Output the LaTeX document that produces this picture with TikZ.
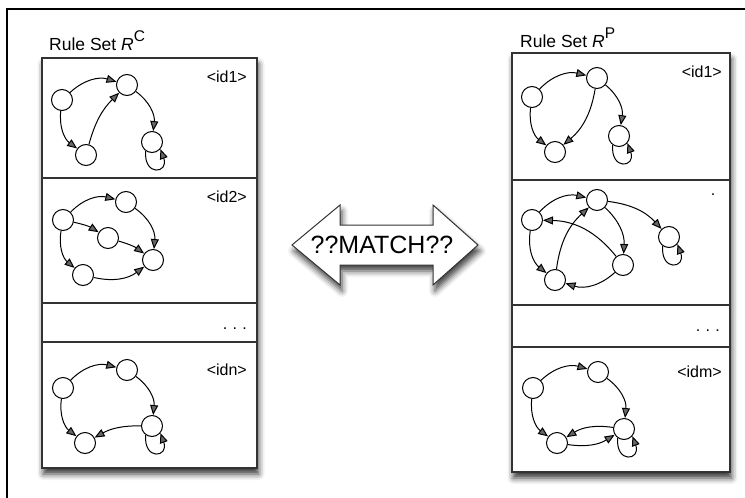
\documentclass[tikz,border=0pt]{standalone}
\usepackage{fontspec}
\setmainfont{Liberation Sans}
\usetikzlibrary{arrows.meta,shadows.blur}

\begin{document}
\begin{tikzpicture}[x=1pt,y=-1pt]

  % Styles
  \tikzstyle{gnode}=[draw,circle,line width=1pt,minimum size=21pt,inner sep=0pt]
  \tikzstyle{to}=[-{Triangle[length=10pt,width=8pt]},line width=1pt]
  \tikzstyle{panel}=[draw=black!80,line width=1.2pt,fill=white,blur shadow={shadow xshift=1.5pt,shadow yshift=-6pt,shadow blur radius=6pt,shadow opacity=80}]
  \tikzstyle{divider}=[draw=black!80,line width=1.2pt]
  \tikzstyle{bigarrow}=[draw=black!80,line width=1pt,fill=white,line join=miter,blur shadow={shadow xshift=2pt,shadow yshift=-6pt,shadow blur radius=6pt,shadow opacity=75}]
  \tikzstyle{tag}=[anchor=east,inner sep=0pt,font=\fontsize{16}{18}\selectfont]
  \tikzstyle{title}=[anchor=base west,inner sep=0pt,font=\fontsize{17.5}{20}\selectfont]

  % \gnode{<id>}
  \newcommand{\gnode}[1]{node[gnode] (#1) {}}
  % \selfloop{<id>}
  \newcommand{\selfloop}[1]{\draw[to] (#1.235) .. controls +(-95:26pt) and +(-70:26pt) .. (#1.-40);}
  % raised letter of a title
  \newcommand{\raisedletter}[1]{\raisebox{9pt}{\fontsize{15.5}{16}\selectfont #1}}

  % ===========================================================================

  \useasboundingbox (0,0) rectangle (745,498);
  \draw[line width=1.3pt] (7,498) -- (7,9) -- (745,9);

  % Draw panels
  \draw[panel] (42,58) rectangle (257,468);
  \draw[divider] (42,178) -- (257,178);
  \draw[divider] (42,303) -- (257,303);
  \draw[divider] (42,342) -- (257,342);
  \draw[panel] (512,53) rectangle (730,472);
  \draw[divider] (512,180) -- (730,180);
  \draw[divider] (512,305) -- (730,305);
  \draw[divider] (512,347) -- (730,347);

  % Titles and tags
  \node[title] (ltitle) at (49,50) {Rule Set \textit{R}\raisedletter{C}};
  \node[title] (rtitle) at (520,47) {Rule Set \textit{R}\raisedletter{P}};
  \node[tag] (l1tag) at (247,77) {<id1>};
  \node[tag] (l2tag) at (247,197) {<id2>};
  \node[tag,anchor=base east] (ldots) at (247,329) {.\,\,.\,\,.};
  \node[tag] (lntag) at (247,370) {<idn>};
  \node[tag] (r1tag) at (722,72) {<id1>};
  \node[tag,anchor=base] (r2tag) at (713,195) {.};
  \node[tag,anchor=base east] (rdots) at (720,331) {.\,\,.\,\,.};
  \node[tag] (rmtag) at (722,372) {<idm>};

  % Draw graph nodes
  \path (62,100)  \gnode{l1a};
  \path (127,85)  \gnode{l1b};
  \path (86,155)  \gnode{l1c};
  \path (152,142) \gnode{l1d};

  \path (63,220)  \gnode{l2a};
  \path (126,202) \gnode{l2b};
  \path (108,238) \gnode{l2m};
  \path (153,260) \gnode{l2e};
  \path (83,275)  \gnode{l2c};

  \path (63,388)  \gnode{lna};
  \path (127,370) \gnode{lnb};
  \path (152,426) \gnode{lnd};
  \path (85,443)  \gnode{lnc};

  \path (532,97)  \gnode{r1a};
  \path (597,78)  \gnode{r1b};
  \path (555,152) \gnode{r1c};
  \path (619,136) \gnode{r1d};

  \path (532,220) \gnode{r2a};
  \path (597,200) \gnode{r2b};
  \path (623,265) \gnode{r2e};
  \path (555,280) \gnode{r2c};
  \path (669,237) \gnode{r2d};

  \path (533,388) \gnode{rma};
  \path (598,372) \gnode{rmb};
  \path (624,429) \gnode{rmd};
  \path (557,443) \gnode{rmc};

  % Draw arrows
  \draw[to] (l1a) to[bend left=30] (l1b);
  \draw[to] (l1a) to[bend right=30] (l1c);
  \draw[to] (l1c) to[bend left=15] (l1b);
  \draw[to] (l1b) to[bend left=30] (l1d);
  \selfloop{l1d}

  \draw[to] (l2a) to[bend left=30] (l2b);
  \draw[to] (l2a) to[bend left=10] (l2m);
  \draw[to] (l2b) to[bend left=30] (l2e);
  \draw[to] (l2m) to[bend left=10] (l2e);
  \draw[to] (l2a) to[bend right=30] (l2c);
  \draw[to] (l2c) to[bend right=25] (l2e);

  \draw[to] (lna) to[bend left=30] (lnb);
  \draw[to] (lna) to[bend right=30] (lnc);
  \draw[to] (lnb) to[bend left=30] (lnd);
  \draw[to] (lnd) to[bend right=15] (lnc);
  \selfloop{lnd}

  \draw[to] (r1a) to[bend left=30] (r1b);
  \draw[to] (r1a) to[bend right=30] (r1c);
  \draw[to] (r1b) to[bend left=20] (r1c);
  \draw[to] (r1b) to[bend left=30] (r1d);
  \selfloop{r1d}

  \draw[to] (r2a) to[bend left=30] (r2b);
  \draw[to] (r2a) to[bend right=30] (r2c);
  \draw[to] (r2c) to[bend left=20] (r2b);
  \draw[to] (r2b) to[bend left=25] (r2e);
  \draw[to] (r2e) to[bend right=25] (r2a);
  \draw[to] (r2e) to[bend left=30] (r2c);
  \draw[to] (r2b) to[bend left=20] (r2d);
  \selfloop{r2d}

  \draw[to] (rma) to[bend left=30] (rmb);
  \draw[to] (rma) to[bend right=30] (rmc);
  \draw[to] (rmb) to[bend left=30] (rmd);
  \draw[to] (rmd) to[bend right=20] (rmc);
  \draw[to] (rmc) to[bend right=20] (rmd);
  \selfloop{rmd}

  % Match arrow
  \draw[bigarrow] (292,245) -- (340,205) -- (340,225) -- (433,225) -- (433,205)
    -- (478,245) -- (433,285) -- (433,265) -- (340,265) -- (340,285) -- cycle;
  \node (match) at (382,245) {\fontsize{25}{30}\selectfont ??MATCH??};

\end{tikzpicture}
\end{document}
